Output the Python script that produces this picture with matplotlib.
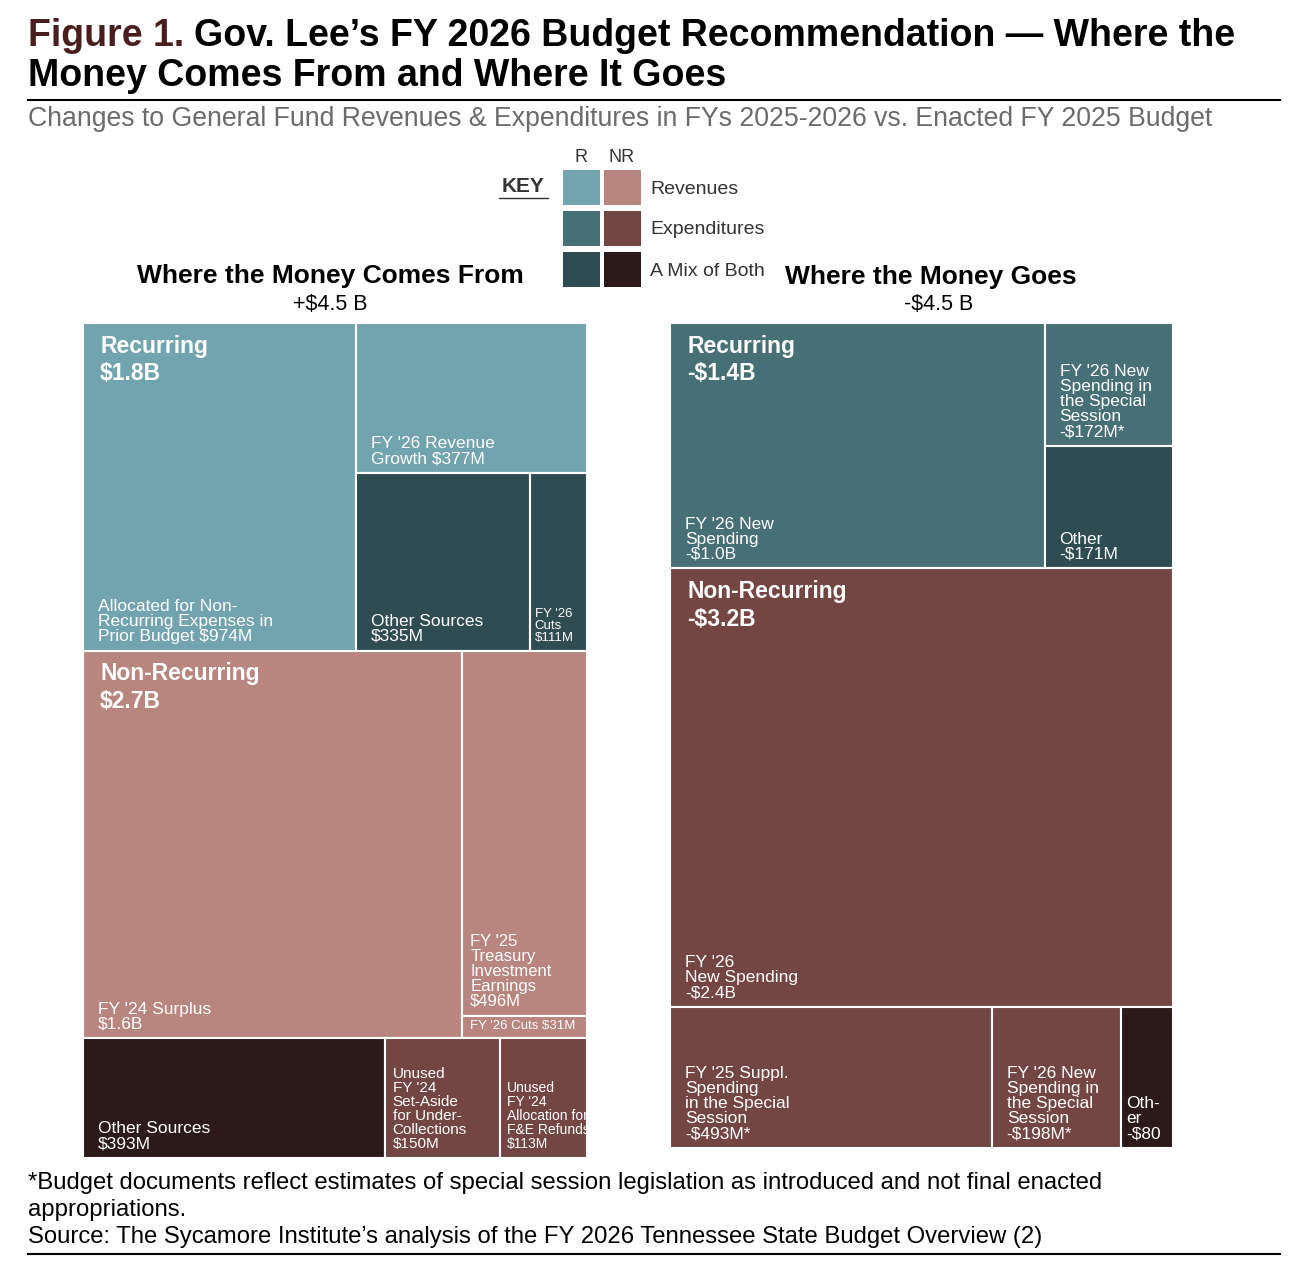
import matplotlib.pyplot as plt
from matplotlib.patches import Rectangle

plt.rcParams['font.family'] = ['Liberation Sans', 'DejaVu Sans']

W, H = 1312, 1282

# colours: revenue / expenditure / mix, recurring vs non-recurring
R_REV, NR_REV = '#72a4af', '#b8857f'
R_EXP, NR_EXP = '#476f76', '#744643'
R_MIX, NR_MIX = '#2f4c52', '#2c1a1b'


def leaf(v, color, label, size=12.5):
    return {'v': v, 'color': color, 'label': label, 'size': size}


def total(node):
    if 'v' in node:
        return node['v']
    return sum(total(k) for k in node['kids'])


def place(node, x, y, w, h, leaves, groups):
    """slice and dice: 'h' puts kids side by side, 'v' stacks them"""
    if 'v' in node:
        leaves.append((node, x, y, w, h))
        return
    if node.get('name'):
        groups.append((node['name'], x, y))
    t = total(node)
    off = 0
    for k in node['kids']:
        share = total(k) / t
        if node['dir'] == 'h':
            place(k, x + off * w, y, share * w, h, leaves, groups)
        else:
            place(k, x, y + off * h, w, share * h, leaves, groups)
        off += share


# where the money comes from ($M)
comes_from = {'dir': 'v', 'kids': [
    {'dir': 'h', 'name': 'Recurring\n$1.8B', 'kids': [
        leaf(974, R_REV, 'Allocated for Non-\nRecurring Expenses in\nPrior Budget $974M'),
        {'dir': 'v', 'kids': [
            leaf(377, R_REV, "FY '26 Revenue\nGrowth $377M"),
            {'dir': 'h', 'kids': [
                leaf(335, R_MIX, 'Other Sources\n$335M'),
                leaf(111, R_MIX, "FY '26\nCuts\n$111M", 9.5),
            ]},
        ]},
    ]},
    {'dir': 'v', 'name': 'Non-Recurring\n$2.7B', 'kids': [
        {'dir': 'h', 'kids': [
            leaf(1600, NR_REV, "FY '24 Surplus\n$1.6B"),
            {'dir': 'v', 'kids': [
                leaf(496, NR_REV, "FY '25\nTreasury\nInvestment\nEarnings\n$496M", 12),
                leaf(31, NR_REV, "FY '26 Cuts $31M", 9.5),
            ]},
        ]},
        {'dir': 'h', 'kids': [
            leaf(393, NR_MIX, 'Other Sources\n$393M'),
            leaf(150, NR_EXP, "Unused\nFY '24\nSet-Aside\nfor Under-\nCollections\n$150M", 11),
            leaf(113, NR_EXP, "Unused\nFY '24\nAllocation for\nF&E Refunds\n$113M", 10),
        ]},
    ]},
]}

# where the money goes ($M)
goes = {'dir': 'v', 'kids': [
    {'dir': 'h', 'name': 'Recurring\n-$1.4B', 'kids': [
        leaf(1000, R_EXP, "FY '26 New\nSpending\n-$1.0B"),
        {'dir': 'v', 'kids': [
            leaf(172, R_EXP, "FY '26 New\nSpending in\nthe Special\nSession\n-$172M*"),
            leaf(171, R_MIX, 'Other\n-$171M'),
        ]},
    ]},
    {'dir': 'v', 'name': 'Non-Recurring\n-$3.2B', 'kids': [
        leaf(2400, NR_EXP, "FY '26\nNew Spending\n-$2.4B"),
        {'dir': 'h', 'kids': [
            leaf(493, NR_EXP, "FY '25 Suppl.\nSpending\nin the Special\nSession\n-$493M*"),
            leaf(198, NR_EXP, "FY '26 New\nSpending in\nthe Special\nSession\n-$198M*"),
            leaf(80, NR_MIX, 'Oth-\ner\n-$80'),
        ]},
    ]},
]}


def draw_tree(ax, tree):
    leaves, groups = [], []
    place(tree, 0, 0, 1, 1, leaves, groups)
    for node, x, y, w, h in leaves:
        ax.add_patch(Rectangle((x, y), w, h, facecolor=node['color'],
                               edgecolor='white', linewidth=1.5))
        pad = 0.03 if w > 0.25 else 0.006 + 0.04 * w  # narrow boxes get a thin margin
        ax.text(x + pad, y + h - 0.008, node['label'],
                color='white', fontsize=node['size'], va='bottom', ha='left',
                linespacing=1.0)
    for name, x, y in groups:
        ax.text(x + 0.034, y + 0.014, name, color='white', fontsize=16.5,
                fontweight='bold', va='top', ha='left', linespacing=1.25)
    ax.set_xlim(0, 1)
    ax.set_ylim(1, 0)
    ax.axis('off')


if __name__ == '__main__':
    fig = plt.figure(figsize=(W / 100, H / 100), dpi=100)

    def fx(x):
        return x / W

    def fy(y):
        return 1 - y / H

    ax1 = fig.add_axes([fx(83), fy(1158), 504 / W, 835 / H])
    draw_tree(ax1, comes_from)
    ax2 = fig.add_axes([fx(670), fy(1148), 503 / W, 825 / H])
    draw_tree(ax2, goes)

    # title
    fig.text(fx(28), fy(36), 'Figure 1.', fontsize=27, fontweight='bold',
             color='#4a1e1e', va='center')
    fig.text(fx(194), fy(36), "Gov. Lee\u2019s FY 2026 Budget Recommendation \u2014 Where the",
             fontsize=27, fontweight='bold', va='center')
    fig.text(fx(28), fy(76), 'Money Comes From and Where It Goes', fontsize=27,
             fontweight='bold', va='center')
    fig.add_artist(plt.Line2D([fx(28), fx(1280)], [fy(100), fy(100)], color='black', lw=1.5))
    fig.text(fx(28), fy(119), 'Changes to General Fund Revenues & Expenditures in FYs 2025-2026 vs. Enacted FY 2025 Budget',
             fontsize=19.2, color='#6b6b6b', va='center')

    # key
    fig.text(fx(523), fy(187), 'KEY', fontsize=15, fontweight='bold', color='#333333',
             ha='center', va='center')
    fig.add_artist(plt.Line2D([fx(499), fx(548)], [fy(198), fy(198)], color='#333333', lw=1))
    fig.text(fx(581), fy(158), 'R', fontsize=13, color='#333333', ha='center', va='center')
    fig.text(fx(622), fy(158), 'NR', fontsize=13, color='#333333', ha='center', va='center')
    key_rows = [(R_REV, NR_REV, 'Revenues'), (R_EXP, NR_EXP, 'Expenditures'),
                (R_MIX, NR_MIX, 'A Mix of Both')]
    for i, (c1, c2, name) in enumerate(key_rows):
        top = 170 + i * 41
        fig.add_artist(Rectangle((fx(563), fy(top + 35)), 37 / W, 35 / H, facecolor=c1,
                                 transform=fig.transFigure))
        fig.add_artist(Rectangle((fx(604), fy(top + 35)), 37 / W, 35 / H, facecolor=c2,
                                 transform=fig.transFigure))
        fig.text(fx(650), fy(top + 19), name, fontsize=14, color='#333333', va='center')

    # headings
    fig.text(fx(330), fy(276), 'Where the Money Comes From', fontsize=19,
             fontweight='bold', ha='center', va='center')
    fig.text(fx(330), fy(304), '+$4.5 B', fontsize=15.5, ha='center', va='center')
    fig.text(fx(931), fy(277), 'Where the Money Goes', fontsize=19,
             fontweight='bold', ha='center', va='center')
    fig.text(fx(939), fy(304), '-$4.5 B', fontsize=15.5, ha='center', va='center')

    # notes
    fig.text(fx(28), fy(1183), '*Budget documents reflect estimates of special session legislation as introduced and not final enacted',
             fontsize=17.2, va='center')
    fig.text(fx(28), fy(1210), 'appropriations.', fontsize=17.2, va='center')
    fig.text(fx(28), fy(1237), "Source: The Sycamore Institute\u2019s analysis of the FY 2026 Tennessee State Budget Overview (2)",
             fontsize=17.2, va='center')
    fig.add_artist(plt.Line2D([fx(28), fx(1280)], [fy(1254), fy(1254)], color='black', lw=1.5))

    fig.savefig('out.png', dpi=100)
